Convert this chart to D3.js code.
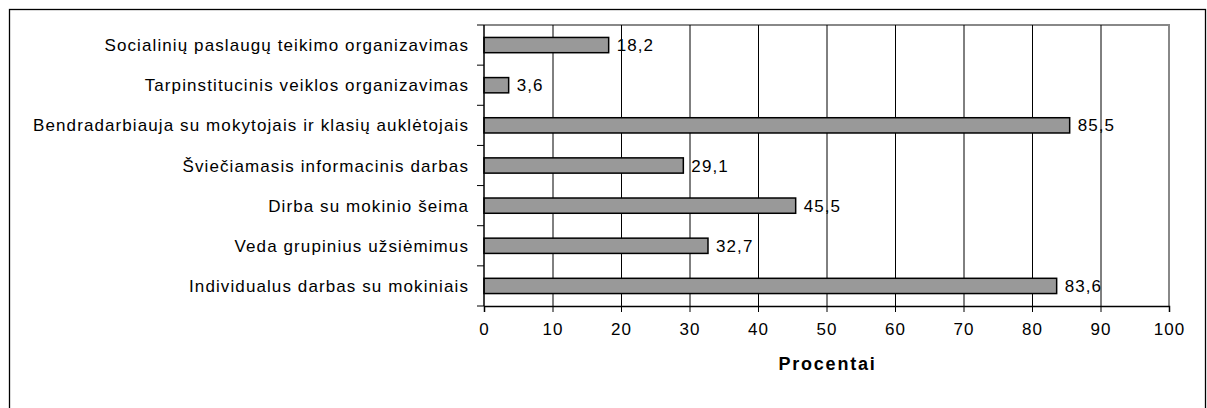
<!DOCTYPE html>
<html><head><meta charset="utf-8">
<script src="https://cdn.jsdelivr.net/npm/d3@7"></script>
<style>body{margin:0;background:#fff}svg{display:block}text{font-family:"Liberation Sans",Arial,sans-serif}</style>
</head><body>
<script>
const categories = [
  "Socialinių paslaugų teikimo organizavimas",
  "Tarpinstitucinis veiklos organizavimas",
  "Bendradarbiauja su mokytojais ir klasių auklėtojais",
  "Šviečiamasis informacinis darbas",
  "Dirba su mokinio šeima",
  "Veda grupinius užsiėmimus",
  "Individualus darbas su mokiniais"
];
const values = [18.2, 3.6, 85.5, 29.1, 45.5, 32.7, 83.6];
const valueLabels = ["18,2","3,6","85,5","29,1","45,5","32,7","83,6"];
const xTicks = [0,10,20,30,40,50,60,70,80,90,100];
const xTitle = "Procentai";

const W = 1207, H = 408;
const pL = 484, pR = 1169, pT = 25, pB = 306;
const FS = 17, LS = "1.1px";
const svg = d3.select("body").append("svg").attr("width", W).attr("height", H);

svg.append("rect").attr("x", 9.5).attr("y", 9.5).attr("width", 1196).attr("height", 410)
  .attr("fill", "none").attr("stroke", "#000").attr("stroke-width", 1.3);

const x = d3.scaleLinear().domain([0, 100]).range([pL, pR]);
const y = d3.scaleBand().domain(categories).range([pT, pB]).paddingInner(0.62).paddingOuter(0.31);
const yb = d3.scaleBand().domain(categories).range([pT, pB]);

// plot border (top/right gray)
svg.append("path").attr("d", `M${pL},${pT}H${pR}V${pB}`)
  .attr("fill", "none").attr("stroke", "#888").attr("stroke-width", 2);

// gridlines
svg.append("g").selectAll("line").data(xTicks.filter(d => d > 0 && d < 100)).join("line")
  .attr("x1", d => x(d) + 0.5).attr("x2", d => x(d) + 0.5).attr("y1", pT).attr("y2", pB)
  .attr("stroke", "#000").attr("stroke-width", 1);

// bars
svg.append("g").selectAll("rect").data(values).join("rect")
  .attr("x", x(0)).attr("y", (d, i) => y(categories[i]))
  .attr("width", d => x(d) - x(0)).attr("height", y.bandwidth())
  .attr("fill", "#999999").attr("stroke", "#000").attr("stroke-width", 1.5);

// value labels
svg.append("g").selectAll("text").data(values).join("text")
  .attr("x", d => x(d) + 8).attr("y", (d, i) => y(categories[i]) + y.bandwidth() / 2)
  .attr("dy", "0.36em").attr("font-size", FS).attr("letter-spacing", LS).attr("fill", "#000")
  .text((d, i) => valueLabels[i]);

// x axis
const xAxis = d3.axisBottom(x).tickValues(xTicks).tickSize(6).tickPadding(11).tickFormat(d3.format("d"));
const gx = svg.append("g").attr("transform", `translate(0,${pB})`).call(xAxis);
gx.select(".domain").attr("stroke", "#000").attr("stroke-width", 1.5);
gx.selectAll(".tick line").attr("stroke", "#000").attr("stroke-width", 1);
gx.selectAll(".tick text").attr("font-size", FS).attr("letter-spacing", LS).attr("fill", "#000")
  .attr("font-family", "Liberation Sans, Arial, sans-serif");

// y axis
const gy = svg.append("g").attr("transform", `translate(${pL},0)`);
gy.append("line").attr("x1", 0).attr("x2", 0).attr("y1", pT).attr("y2", pB).attr("stroke", "#000").attr("stroke-width", 1.5);
const bounds = categories.map(c => yb(c)).concat([pB]);
gy.selectAll(".yt").data(bounds).join("line").attr("class", "yt")
  .attr("x1", -7).attr("x2", 0).attr("y1", d => d).attr("y2", d => d).attr("stroke", "#000").attr("stroke-width", 1);
gy.selectAll(".yl").data(categories).join("text").attr("class", "yl")
  .attr("x", -15).attr("y", d => yb(d) + yb.bandwidth() / 2).attr("dy", "0.36em")
  .attr("text-anchor", "end").attr("font-size", FS).attr("letter-spacing", LS).attr("fill", "#000").text(d => d);

svg.append("text").attr("x", (pL + pR) / 2 + 1).attr("y", 364).attr("dy", "0.36em")
  .attr("text-anchor", "middle").attr("font-size", 18).attr("letter-spacing", "1.8px")
  .attr("font-weight", "bold").text(xTitle);
</script>
</body></html>
